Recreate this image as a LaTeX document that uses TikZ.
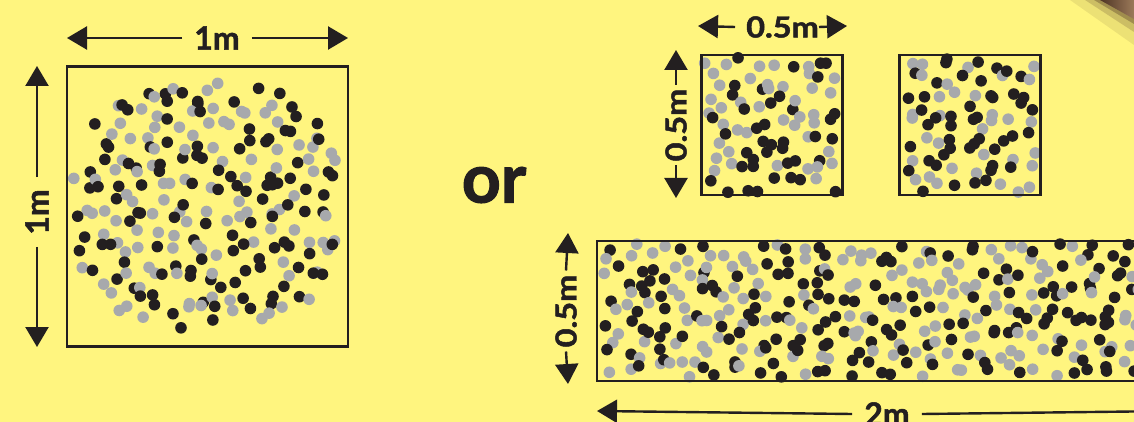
\documentclass[tikz,border=0pt]{standalone}
\usepackage{fontspec}
\newfontfamily\lblfont{Lato}[BoldFeatures={FakeBold=1.6}]
\usetikzlibrary{arrows.meta}
\definecolor{bgyellow}{HTML}{FFF57F}
\definecolor{dotblack}{HTML}{231F20}
\definecolor{dotgray}{HTML}{A7A9AC}
\definecolor{ink}{HTML}{231F20}
\definecolor{brownA}{HTML}{4E3424}
\definecolor{brownB}{HTML}{9C7A5A}
\tikzset{
  boxline/.style={draw=ink, line width=2.4pt},
  dim/.style={draw=ink, line width=2.4pt, -{Triangle[length=20pt,width=23pt]}},
  lbl/.style={font=\lblfont\bfseries\fontsize{32}{32}\selectfont, text=ink, inner sep=0pt, inner xsep=12pt},
  lblsmall/.style={lbl, font=\lblfont\bfseries\fontsize{29}{29}\selectfont},
}
% one dot of random colour
\newcommand\onedot[2]{%
  \pgfmathsetmacro\dotC{rnd}%
  \ifdim\dotC pt<0.52pt \fill[dotblack] (#1,#2) circle (5.8pt);\else\fill[dotgray] (#1,#2) circle (5.8pt);\fi}
% jittered grid: seed, x0, y0, ncols-1, nrows-1, step, jitter
\newcommand\dotgrid[7]{%
  \pgfmathsetseed{#1}%
  \foreach \gx in {0,...,#4}{%
    \foreach \gy in {0,...,#5}{%
      \pgfmathsetmacro\dotX{#2+#6*\gx+#7*(rnd-0.5)}%
      \pgfmathsetmacro\dotY{#3+#6*\gy+#7*(rnd-0.5)}%
      \onedot{\dotX}{\dotY}%
    }}}
% jittered grid clipped to a rounded blob: seed, cx, cy, rx, ry, step, jitter
\newcommand\dotblob[7]{%
  \pgfmathsetseed{#1}%
  \foreach \gx in {-9,...,9}{%
    \foreach \gy in {-9,...,9}{%
      \pgfmathsetmacro\dotX{#2+#6*\gx+#7*(rnd-0.5)}%
      \pgfmathsetmacro\dotY{#3+#6*\gy+#7*(rnd-0.5)}%
      \pgfmathparse{and(pow(abs(\dotX-#2)/#4,2.6)+pow(abs(\dotY-#3)/#5,2.6)<1, rnd>0.1) ? 1 : 0}%
      \ifnum\pgfmathresult=1 \onedot{\dotX}{\dotY}\fi
    }}}
\begin{document}
\begin{tikzpicture}[x=1pt,y=-1pt]
  \fill[bgyellow] (0,0) rectangle (1134,422);
  \useasboundingbox (0,0) rectangle (1134,422);
  \clip (0,0) rectangle (1134,422);
  % brown corner
  \fill[brownA, opacity=0.10] (1070,0) -- (1134,0) -- (1134,45) -- cycle;
  \fill[brownA, opacity=0.20] (1085,0) -- (1134,0) -- (1134,32) -- cycle;
  \fill[brownA, opacity=0.35] (1094,0) -- (1134,0) -- (1134,24) -- cycle;
  \shade[left color=brownA, right color=brownB] (1100,0) -- (1134,0) -- (1134,19) -- cycle;
  % dots
  \dotblob{11}{205}{206}{134}{124}{15}{16}
  \dotgrid{23}{712}{65}{8}{8}{15}{15}
  \dotgrid{37}{909}{65}{8}{8}{15}{15}
  \dotgrid{51}{610}{251}{37}{8}{14.8}{15}
  % boxes
  \node[boxline, minimum width=281pt, minimum height=280pt, inner sep=0pt] (bigbox) at (207.5,206.5) {};
  \node[boxline, minimum width=141pt, minimum height=140pt, inner sep=0pt] (sq1) at (772,125) {};
  \node[boxline, minimum width=141pt, minimum height=140pt, inner sep=0pt] (sq2) at (970,125) {};
  \node[boxline, minimum width=573pt, minimum height=140pt, inner sep=0pt] (strip) at (883.5,311) {};
  % dimension coordinates
  \coordinate (a1l) at (67,38);   \coordinate (a1r) at (348,38);
  \coordinate (b1t) at (37,66);   \coordinate (b1b) at (37,347);
  \coordinate (a2l) at (698,26);  \coordinate (a2r) at (847,26);
  \coordinate (b2t) at (676,50);  \coordinate (b2b) at (676,198);
  \coordinate (b3t) at (568,233); \coordinate (b3b) at (568,384);
  \coordinate (a3l) at (597,411); \coordinate (a3r) at (1175,411);
  % labels
  \node[lbl] (t1) at (217,38) {1m};
  \node[lbl, rotate=90] (l1) at (37,212) {1m};
  \node[lblsmall, inner xsep=0pt] (t2) at (777,27) {\hspace{11pt}\scalebox{1.12}[1]{0.5m}\hspace{3pt}};
  \node[lblsmall, rotate=90, inner xsep=4pt] (l2) at (676,125) {\scalebox{1.12}[1]{0.5m}};
  \node[lblsmall, rotate=90, inner xsep=4pt] (l3) at (566,311) {\scalebox{1.12}[1]{0.5m}};
  \node[lbl, inner xsep=12pt] (t3) at (887,414) {2m};
  \node[font=\lblfont\bfseries\fontsize{68}{68}\selectfont, text=ink, inner sep=0pt] (or) at (494,185) {or};
  % arrows
  \draw[dim] (t1.west) -- (a1l);
  \draw[dim] (t1.east) -- (a1r);
  \draw[dim] (l1.east) -- (b1t);
  \draw[dim] (l1.west) -- (b1b);
  \draw[dim] (t2.west) -- (a2l);
  \draw[dim] (t2.east) -- (a2r);
  \draw[dim] (l2.east) -- (b2t);
  \draw[dim] (l2.west) -- (b2b);
  \draw[dim] (l3.east) -- (b3t);
  \draw[dim] (l3.west) -- (b3b);
  \draw[dim] (t3.west) -- (a3l);
  \draw[dim] (t3.east) -- (a3r);
\end{tikzpicture}
\end{document}
